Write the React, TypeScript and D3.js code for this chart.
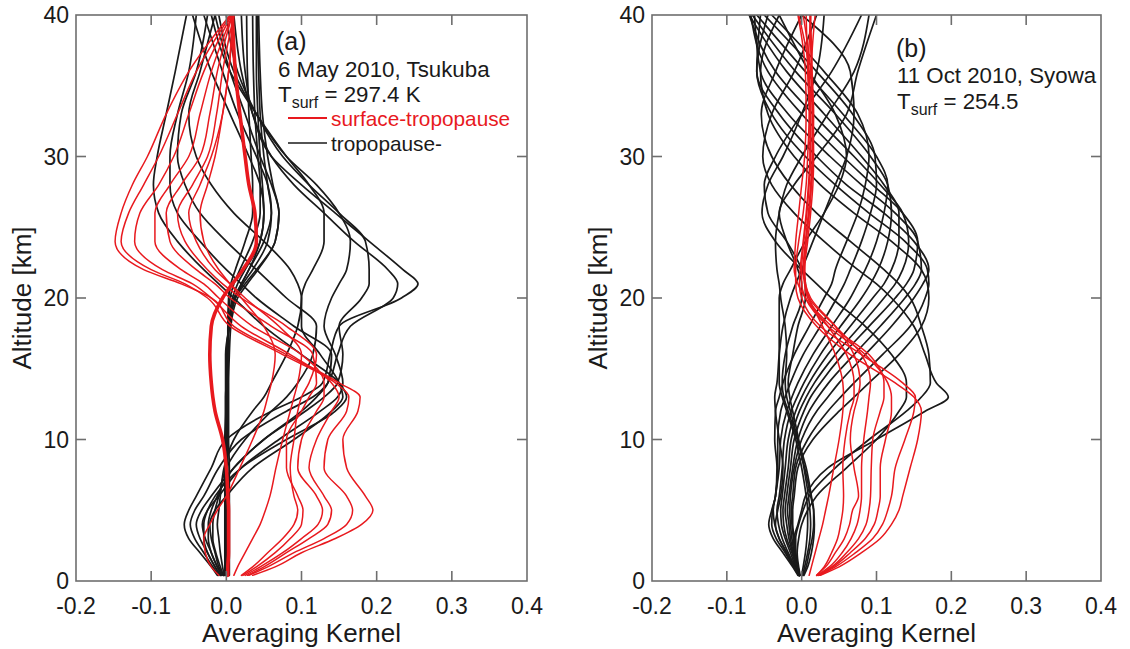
import React from "react";
import * as d3 from "d3";

// Altitude grid (km) shared by every kernel row
const ALT = [0.4, 1, 2, 3, 4, 5, 6, 8, 10, 12, 13, 14, 16, 18, 20, 21, 22, 24, 26, 28, 30, 33, 36, 40];
const X_TICKS = [-0.2, -0.1, 0, 0.1, 0.2, 0.3, 0.4];
const X_TICK_LABELS = ["-0.2", "-0.1", "0.0", "0.1", "0.2", "0.3", "0.4"];
const Y_TICKS = [0, 10, 20, 30, 40];

// ---------- Panel (a) : 6 May 2010, Tsukuba ----------
// surface-tropopause rows (red)
const A_R1 = [0.035, 0.065, 0.10, 0.145, 0.18, 0.195, 0.185, 0.16, 0.155, 0.175, 0.178, 0.15, 0.08, 0.01, -0.02, -0.06, -0.11, -0.148, -0.14, -0.125, -0.105, -0.08, -0.05, 0.005];
const A_R2 = [0.03, 0.055, 0.09, 0.13, 0.16, 0.168, 0.16, 0.13, 0.135, 0.16, 0.163, 0.145, 0.075, 0.005, -0.025, -0.055, -0.1, -0.14, -0.13, -0.11, -0.09, -0.065, -0.04, 0.006];
const A_R3 = [0.028, 0.05, 0.08, 0.11, 0.135, 0.14, 0.13, 0.11, 0.12, 0.14, 0.15, 0.14, 0.085, 0.02, -0.02, -0.045, -0.085, -0.122, -0.115, -0.09, -0.07, -0.05, -0.03, 0.007];
const A_R4 = [0.025, 0.045, 0.075, 0.1, 0.122, 0.128, 0.12, 0.095, 0.1, 0.12, 0.13, 0.13, 0.1, 0.035, -0.01, -0.03, -0.06, -0.095, -0.095, -0.075, -0.05, -0.035, -0.02, 0.008];
const A_R5 = [0.022, 0.04, 0.065, 0.085, 0.1, 0.102, 0.095, 0.08, 0.08, 0.1, 0.11, 0.12, 0.115, 0.06, 0.005, -0.015, -0.04, -0.075, -0.08, -0.06, -0.035, -0.022, -0.012, 0.008];
const A_R6 = [0.02, 0.035, 0.055, 0.075, 0.09, 0.095, 0.09, 0.085, 0.09, 0.095, 0.1, 0.11, 0.12, 0.08, 0.02, -0.005, -0.025, -0.055, -0.065, -0.045, -0.025, -0.013, -0.005, 0.01];
const A_R7 = [0.01, 0.015, 0.025, 0.035, 0.045, 0.052, 0.058, 0.066, 0.075, 0.085, 0.09, 0.095, 0.1, 0.07, 0.025, 0.005, -0.015, -0.04, -0.05, -0.035, -0.02, -0.005, 0.003, 0.01];
const A_R8 = [-0.01, -0.02, -0.028, -0.03, -0.022, -0.012, 0.0, 0.018, 0.035, 0.05, 0.055, 0.06, 0.065, 0.05, 0.02, 0.005, -0.01, -0.03, -0.035, -0.025, -0.015, -0.005, 0.003, 0.008];
const A_R_THICK = [0.002, 0.002, 0.003, 0.003, 0.003, 0.003, 0.002, 0.0, -0.005, -0.015, -0.018, -0.02, -0.022, -0.02, -0.005, 0.008, 0.022, 0.04, 0.038, 0.03, 0.025, 0.018, 0.012, 0.008];

// tropopause- rows (black)
const A_BT1 = [0, 0, 0, 0, 0, 0, 0, 0, 0, 0.001, 0.001, 0.002, 0.002, 0.002, 0.005, 0.01, 0.018, 0.035, 0.045, 0.045, 0.042, 0.038, 0.036, 0.035];
const A_BT2 = [-0.002, -0.002, -0.002, -0.002, -0.002, -0.002, -0.002, -0.002, -0.002, -0.001, -0.001, 0.0, 0.001, 0.003, 0.008, 0.015, 0.025, 0.045, 0.05, 0.048, 0.045, 0.042, 0.04, 0.04];
const A_BT3 = [0.002, 0.002, 0.003, 0.003, 0.003, 0.003, 0.003, 0.002, 0.002, 0.002, 0.002, 0.002, 0.002, 0.002, 0.003, 0.006, 0.012, 0.025, 0.035, 0.035, 0.033, 0.03, 0.028, 0.027];
const A_BT4 = [0.001, 0.001, 0.001, 0.001, 0.001, 0.001, 0.001, 0.001, 0, 0, 0, 0.001, 0.002, 0.004, 0.012, 0.022, 0.035, 0.055, 0.06, 0.055, 0.05, 0.045, 0.043, 0.041];
const A_BT5 = [0.004, 0.004, 0.004, 0.004, 0.004, 0.004, 0.004, 0.004, 0.003, 0.003, 0.003, 0.003, 0.004, 0.006, 0.015, 0.028, 0.042, 0.065, 0.07, 0.062, 0.055, 0.048, 0.045, 0.043];
const A_BP1 = [-0.012, -0.02, -0.035, -0.05, -0.056, -0.05, -0.04, -0.02, 0.0, 0.06, 0.1, 0.128, 0.138, 0.15, 0.233, 0.255, 0.235, 0.19, 0.145, 0.1, 0.06, 0.035, 0.025, 0.02];
const A_BP2 = [-0.01, -0.018, -0.03, -0.042, -0.048, -0.042, -0.03, -0.01, 0.02, 0.08, 0.115, 0.135, 0.148, 0.165, 0.222, 0.228, 0.215, 0.17, 0.13, 0.09, 0.06, 0.035, 0.02, 0.01];
const A_BP3 = [-0.008, -0.015, -0.025, -0.035, -0.04, -0.033, -0.02, 0.01, 0.05, 0.105, 0.13, 0.148, 0.155, 0.15, 0.18, 0.19, 0.19, 0.185, 0.15, 0.11, 0.075, 0.04, 0.015, 0.0];
const A_BP4 = [-0.006, -0.012, -0.02, -0.028, -0.032, -0.025, -0.01, 0.02, 0.07, 0.125, 0.148, 0.155, 0.145, 0.13, 0.14, 0.15, 0.16, 0.165, 0.15, 0.12, 0.08, 0.04, 0.01, -0.01];
const A_BP5 = [-0.004, -0.01, -0.015, -0.02, -0.022, -0.015, 0.0, 0.035, 0.09, 0.14, 0.155, 0.15, 0.125, 0.1, 0.1, 0.105, 0.115, 0.13, 0.13, 0.11, 0.08, 0.04, 0.005, -0.02];
const A_BL1 = [-0.008, -0.015, -0.025, -0.03, -0.03, -0.025, -0.015, 0.02, 0.08, 0.145, 0.16, 0.15, 0.1, 0.05, 0.01, -0.01, -0.03, -0.065, -0.09, -0.097, -0.092, -0.08, -0.068, -0.053];
const A_BL2 = [-0.006, -0.012, -0.02, -0.024, -0.024, -0.02, -0.012, 0.01, 0.05, 0.1, 0.12, 0.135, 0.14, 0.09, 0.04, 0.02, 0.0, -0.035, -0.065, -0.075, -0.075, -0.065, -0.05, -0.04];
const A_BL3 = [-0.004, -0.008, -0.014, -0.018, -0.018, -0.015, -0.01, 0.0, 0.025, 0.06, 0.08, 0.095, 0.115, 0.12, 0.08, 0.06, 0.04, 0.0, -0.035, -0.055, -0.065, -0.06, -0.04, -0.025];
const A_BL4 = [-0.003, -0.005, -0.008, -0.01, -0.012, -0.01, -0.008, -0.003, 0.01, 0.035, 0.05, 0.06, 0.08, 0.095, 0.1, 0.095, 0.085, 0.05, 0.01, -0.02, -0.04, -0.05, -0.035, -0.015];
const A_BU1 = [0, 0, 0, 0, 0, 0, 0, 0, 0, 0, 0, 0, 0, 0.004, 0.012, 0.02, 0.03, 0.045, 0.05, 0.045, 0.03, 0.005, -0.02, -0.045];
const A_BU2 = [0.001, 0.001, 0.001, 0.001, 0.001, 0.001, 0.001, 0.001, 0.001, 0.001, 0.001, 0.001, 0.001, 0.003, 0.01, 0.02, 0.03, 0.05, 0.06, 0.055, 0.04, 0.015, -0.005, -0.03];
const A_BU3 = [-0.001, -0.001, -0.001, -0.001, -0.001, -0.001, -0.001, -0.001, -0.001, -0.001, -0.001, -0.001, -0.001, 0.004, 0.012, 0.025, 0.04, 0.065, 0.07, 0.06, 0.045, 0.025, 0.005, -0.015];

// ---------- Panel (b) : 11 Oct 2010, Syowa ----------
const B_R1 = [0.025, 0.05, 0.08, 0.105, 0.12, 0.13, 0.135, 0.145, 0.155, 0.16, 0.15, 0.125, 0.065, 0.02, -0.005, -0.008, -0.008, -0.004, 0.002, 0.006, 0.008, 0.01, 0.008, 0.006];
const B_R2 = [0.024, 0.045, 0.072, 0.095, 0.108, 0.115, 0.12, 0.125, 0.138, 0.15, 0.152, 0.135, 0.08, 0.025, 0.0, -0.003, -0.002, 0.002, 0.006, 0.009, 0.011, 0.011, 0.009, 0.012];
const B_R3 = [0.023, 0.042, 0.065, 0.085, 0.097, 0.102, 0.105, 0.105, 0.112, 0.12, 0.12, 0.115, 0.085, 0.035, 0.005, 0.0, 0.0, 0.003, 0.007, 0.01, 0.012, 0.012, 0.01, -0.004];
const B_R4 = [0.022, 0.04, 0.06, 0.076, 0.086, 0.09, 0.092, 0.093, 0.095, 0.105, 0.11, 0.11, 0.09, 0.04, 0.008, 0.004, 0.004, 0.008, 0.012, 0.015, 0.016, 0.015, 0.013, 0.018];
const B_R5 = [0.021, 0.037, 0.054, 0.066, 0.074, 0.078, 0.08, 0.08, 0.083, 0.088, 0.09, 0.092, 0.08, 0.045, 0.01, 0.004, 0.002, 0.005, 0.009, 0.012, 0.014, 0.014, 0.012, 0.002];
const B_R6 = [0.02, 0.032, 0.045, 0.057, 0.064, 0.068, 0.076, 0.07, 0.065, 0.07, 0.075, 0.078, 0.07, 0.045, 0.012, 0.005, 0.003, 0.006, 0.01, 0.013, 0.015, 0.015, 0.013, 0.011];
const B_R7 = [0.01, 0.013, 0.018, 0.023, 0.028, 0.032, 0.036, 0.043, 0.05, 0.055, 0.056, 0.055, 0.045, 0.028, 0.01, 0.005, 0.004, 0.006, 0.01, 0.013, 0.015, 0.016, 0.014, 0.012];
const B_R8 = [0.02, 0.03, 0.04, 0.048, 0.052, 0.055, 0.056, 0.055, 0.058, 0.065, 0.07, 0.07, 0.06, 0.035, 0.005, -0.005, -0.01, -0.008, -0.004, 0.0, 0.004, 0.006, 0.005, -0.005];

const B_K0 = [-0.002, -0.004, -0.006, -0.004, 0.0, 0.008, 0.02, 0.06, 0.1, 0.13, 0.14, 0.14, 0.12, 0.085, 0.04, 0.02, 0.0, -0.035, -0.053, -0.045, -0.025, 0.0, 0.02, 0.03];
const B_K1 = [-0.003, -0.006, -0.01, -0.01, -0.005, 0.0, 0.005, 0.035, 0.1, 0.165, 0.196, 0.18, 0.165, 0.15, 0.12, 0.1, 0.075, 0.03, -0.01, -0.04, -0.052, -0.04, -0.01, 0.02];
const B_K2 = [-0.003, -0.005, -0.008, -0.008, -0.004, 0.002, 0.01, 0.045, 0.09, 0.14, 0.16, 0.172, 0.17, 0.16, 0.145, 0.13, 0.11, 0.065, 0.02, -0.015, -0.04, -0.054, -0.035, 0.0];
const B_K3 = [-0.003, -0.005, -0.008, -0.01, -0.012, -0.012, -0.01, -0.005, 0.015, 0.05, 0.07, 0.09, 0.13, 0.16, 0.17, 0.168, 0.16, 0.12, 0.07, 0.025, -0.01, -0.045, -0.055, -0.03];
const B_K3b = [-0.003, -0.005, -0.009, -0.011, -0.013, -0.014, -0.012, -0.008, 0.008, 0.035, 0.052, 0.07, 0.108, 0.145, 0.165, 0.17, 0.168, 0.138, 0.09, 0.045, 0.005, -0.04, -0.06, -0.045];
const B_K4 = [-0.003, -0.006, -0.01, -0.013, -0.015, -0.016, -0.015, -0.01, 0.0, 0.02, 0.035, 0.05, 0.085, 0.12, 0.15, 0.162, 0.17, 0.15, 0.11, 0.06, 0.02, -0.03, -0.06, -0.055];
const B_K4b = [-0.003, -0.006, -0.011, -0.015, -0.017, -0.019, -0.017, -0.012, -0.005, 0.01, 0.022, 0.036, 0.07, 0.105, 0.138, 0.152, 0.16, 0.155, 0.125, 0.08, 0.038, -0.018, -0.055, -0.063];
const B_K5 = [-0.003, -0.007, -0.012, -0.017, -0.02, -0.022, -0.02, -0.015, -0.01, 0.003, 0.012, 0.025, 0.055, 0.09, 0.125, 0.14, 0.15, 0.155, 0.135, 0.095, 0.055, 0.0, -0.045, -0.068];
const B_K5b = [-0.003, -0.007, -0.013, -0.02, -0.024, -0.025, -0.023, -0.018, -0.014, -0.003, 0.006, 0.017, 0.045, 0.078, 0.11, 0.125, 0.135, 0.143, 0.135, 0.105, 0.07, 0.015, -0.035, -0.07];
const B_K6 = [-0.003, -0.008, -0.015, -0.022, -0.027, -0.028, -0.026, -0.022, -0.018, -0.008, 0.0, 0.01, 0.035, 0.065, 0.095, 0.11, 0.12, 0.13, 0.13, 0.11, 0.08, 0.03, -0.02, -0.07];
const B_K6b = [-0.004, -0.009, -0.018, -0.026, -0.031, -0.033, -0.03, -0.026, -0.023, -0.014, -0.006, 0.003, 0.025, 0.052, 0.08, 0.092, 0.102, 0.115, 0.12, 0.115, 0.092, 0.045, -0.008, -0.066];
const B_K7 = [-0.004, -0.01, -0.02, -0.03, -0.036, -0.038, -0.035, -0.03, -0.028, -0.02, -0.013, -0.005, 0.015, 0.04, 0.065, 0.075, 0.085, 0.1, 0.11, 0.115, 0.1, 0.055, 0.005, -0.06];
const B_K7b = [-0.004, -0.011, -0.022, -0.034, -0.04, -0.039, -0.035, -0.032, -0.032, -0.028, -0.022, -0.015, 0.002, 0.025, 0.047, 0.057, 0.065, 0.08, 0.092, 0.1, 0.098, 0.068, 0.02, -0.05];
const B_K8 = [-0.005, -0.012, -0.025, -0.038, -0.044, -0.04, -0.035, -0.033, -0.036, -0.035, -0.03, -0.025, -0.01, 0.01, 0.03, 0.04, 0.045, 0.06, 0.075, 0.085, 0.09, 0.075, 0.03, -0.04];
const B_K9 = [-0.004, -0.01, -0.02, -0.03, -0.035, -0.032, -0.028, -0.025, -0.03, -0.035, -0.036, -0.033, -0.03, -0.025, -0.015, -0.008, 0.0, 0.015, 0.03, 0.045, 0.06, 0.07, 0.065, 0.0];
const B_K10 = [0.002, 0.006, 0.01, 0.014, 0.016, 0.016, 0.013, 0.006, -0.005, -0.015, -0.02, -0.022, -0.02, -0.022, -0.028, -0.03, -0.033, -0.035, -0.03, -0.02, 0.0, 0.035, 0.07, 0.09];
const B_K11 = [0.003, 0.008, 0.013, 0.016, 0.017, 0.016, 0.012, 0.004, -0.006, -0.018, -0.024, -0.026, -0.022, -0.012, 0.0, 0.0, -0.005, -0.02, -0.03, -0.01, 0.02, 0.06, 0.075, 0.1];
const B_K12 = [0.001, 0.004, 0.008, 0.011, 0.012, 0.011, 0.009, 0.003, -0.004, -0.012, -0.016, -0.018, -0.012, -0.005, 0.005, 0.005, 0.0, -0.02, -0.045, -0.05, -0.035, 0.0, 0.04, 0.08];
const B_K13 = [0.0, 0.002, 0.005, 0.007, 0.008, 0.008, 0.006, 0.0, -0.008, -0.02, -0.026, -0.03, -0.03, -0.03, -0.03, -0.025, -0.015, 0.005, 0.03, 0.05, 0.06, 0.045, 0.01, -0.03];

const PANEL_A_BLACK = [A_BT1, A_BT2, A_BT3, A_BT4, A_BT5, A_BP1, A_BP2, A_BP3, A_BP4, A_BP5, A_BL1, A_BL2, A_BL3, A_BL4, A_BU1, A_BU2, A_BU3];
const PANEL_A_RED = [A_R1, A_R2, A_R3, A_R4, A_R5, A_R6, A_R7, A_R8];
const PANEL_A_RED_THICK = [A_R_THICK];
const PANEL_B_BLACK = [B_K0, B_K1, B_K2, B_K3, B_K3b, B_K4, B_K4b, B_K5, B_K5b, B_K6, B_K6b, B_K7, B_K7b, B_K8, B_K9, B_K10, B_K11, B_K12, B_K13];
const PANEL_B_RED = [B_R1, B_R2, B_R3, B_R4, B_R5, B_R6, B_R7, B_R8];
const PANEL_B_RED_THICK: number[][] = [];

const RED = "#e8191e";
const INK = "#1a1a1a";
const AXIS = "#6e6e6e";
const FONT = "'Liberation Sans', Arial, Helvetica, sans-serif";

type PanelProps = {
  id: string;
  left: number;
  right: number;
  top: number;
  bottom: number;
  black: number[][];
  red: number[][];
  redThick: number[][];
  children?: React.ReactNode;
};

function Panel({ id, left, right, top, bottom, black, red, redThick, children }: PanelProps) {
  const x = d3.scaleLinear().domain([-0.2, 0.4]).range([left, right]);
  const y = d3.scaleLinear().domain([0, 40]).range([bottom, top]);
  const line = d3
    .line<number>()
    .x((d) => x(d))
    .y((_d, i) => y(ALT[i]))
    .curve(d3.curveMonotoneY);
  const tickLen = 10;
  const midX = (left + right) / 2;
  const midY = (top + bottom) / 2;
  return (
    <g>
      <defs>
        <clipPath id={`clip-${id}`}>
          <rect x={left} y={top} width={right - left} height={bottom - top} />
        </clipPath>
      </defs>
      <g clipPath={`url(#clip-${id})`} fill="none" strokeLinejoin="round" strokeLinecap="round">
        {black.map((s, i) => (
          <path key={`b${i}`} d={line(s) || ""} stroke={INK} strokeWidth={1.7} />
        ))}
        {red.map((s, i) => (
          <path key={`r${i}`} d={line(s) || ""} stroke={RED} strokeWidth={1.5} />
        ))}
        {redThick.map((s, i) => (
          <path key={`rt${i}`} d={line(s) || ""} stroke={RED} strokeWidth={3.6} />
        ))}
      </g>
      <rect x={left} y={top} width={right - left} height={bottom - top} fill="none" stroke={AXIS} strokeWidth={1.6} />
      {X_TICKS.slice(1, -1).map((t) => (
        <g key={`xt${t}`} stroke={AXIS} strokeWidth={1.6}>
          <line x1={x(t)} x2={x(t)} y1={bottom} y2={bottom - tickLen} />
          <line x1={x(t)} x2={x(t)} y1={top} y2={top + tickLen} />
        </g>
      ))}
      {Y_TICKS.slice(1, -1).map((t) => (
        <g key={`yt${t}`} stroke={AXIS} strokeWidth={1.6}>
          <line x1={left} x2={left + tickLen} y1={y(t)} y2={y(t)} />
          <line x1={right} x2={right - tickLen} y1={y(t)} y2={y(t)} />
        </g>
      ))}
      {X_TICKS.map((t, i) => (
        <text key={`xl${t}`} x={x(t)} y={bottom + 33} textAnchor="middle" fontSize={23} fill={INK} fontFamily={FONT}>
          {X_TICK_LABELS[i]}
        </text>
      ))}
      {Y_TICKS.map((t) => (
        <text key={`yl${t}`} x={left - 7} y={y(t) + 8} textAnchor="end" fontSize={23} fill={INK} fontFamily={FONT}>
          {t}
        </text>
      ))}
      <text x={midX} y={bottom + 61} textAnchor="middle" fontSize={26} fill={INK} fontFamily={FONT}>
        Averaging Kernel
      </text>
      <text
        transform={`translate(${left - 45},${midY}) rotate(-90)`}
        textAnchor="middle"
        fontSize={26}
        fill={INK}
        fontFamily={FONT}
      >
        Altitude [km]
      </text>
      {children}
    </g>
  );
}

export default function App() {
  return (
    <svg width={1130} height={649} viewBox="0 0 1130 649" style={{ display: "block", position: "absolute", left: 0, top: 0, background: "#fff" }}>
      <rect x={0} y={0} width={1130} height={649} fill="#fff" />
      <Panel id="a" left={76} right={527} top={15} bottom={581} black={PANEL_A_BLACK} red={PANEL_A_RED} redThick={PANEL_A_RED_THICK}>
        <g fontFamily={FONT} fill={INK}>
          <text x={276} y={50} fontSize={25}>(a)</text>
          <text x={278} y={77} fontSize={22.3}>6 May 2010, Tsukuba</text>
          <text x={278} y={102} fontSize={22.3}>
            T<tspan dy={6} fontSize={16}>surf</tspan>
            <tspan dy={-6}> = 297.4 K</tspan>
          </text>
          <line x1={288} x2={327} y1={118} y2={118} stroke={RED} strokeWidth={1.8} />
          <text x={331} y={126} fontSize={20.8} fill={RED}>surface-tropopause</text>
          <line x1={288} x2={327} y1={143} y2={143} stroke={INK} strokeWidth={1.3} />
          <text x={331} y={151} fontSize={20.8}>tropopause-</text>
        </g>
      </Panel>
      <Panel id="b" left={652} right={1101} top={15} bottom={581} black={PANEL_B_BLACK} red={PANEL_B_RED} redThick={PANEL_B_RED_THICK}>
        <g fontFamily={FONT} fill={INK}>
          <text x={896} y={57} fontSize={25}>(b)</text>
          <text x={897} y={83} fontSize={22.3}>11 Oct 2010, Syowa</text>
          <text x={897} y={109} fontSize={22.3}>
            T<tspan dy={6} fontSize={16}>surf</tspan>
            <tspan dy={-6}> = 254.5</tspan>
          </text>
        </g>
      </Panel>
    </svg>
  );
}
